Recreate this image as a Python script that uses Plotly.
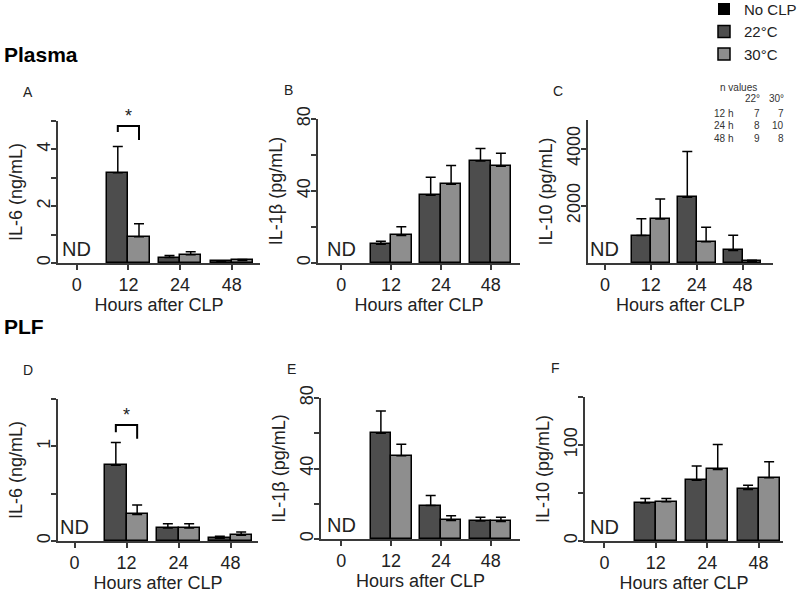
import plotly.graph_objects as go

W, H = 800, 595

hours = ["0", "12", "24", "48"]
groups_clp = ["12", "24", "48"]

# Plasma
il6_plasma_22 = [3.18, 0.19, 0.06]
il6_plasma_22_err = [0.92, 0.07, 0.02]
il6_plasma_30 = [0.92, 0.29, 0.09]
il6_plasma_30_err = [0.46, 0.11, 0.03]

il1b_plasma_22 = [10.4, 37.6, 56.7]
il1b_plasma_22_err = [1.7, 10.0, 6.9]
il1b_plasma_30 = [15.3, 43.7, 53.8]
il1b_plasma_30_err = [4.8, 10.4, 7.2]

il10_plasma_22 = [960, 2300, 440]
il10_plasma_22_err = [590, 1600, 530]
il10_plasma_30 = [1540, 740, 60]
il10_plasma_30_err = [700, 510, 35]

# PLF
il6_plf_22 = [0.80, 0.137, 0.03]
il6_plf_22_err = [0.24, 0.045, 0.02]
il6_plf_30 = [0.28, 0.137, 0.06]
il6_plf_30_err = [0.10, 0.045, 0.035]

il1b_plf_22 = [60.0, 19.0, 10.2]
il1b_plf_22_err = [12.6, 5.7, 2.2]
il1b_plf_30 = [47.2, 10.5, 10.0]
il1b_plf_30_err = [6.6, 2.7, 2.4]

il10_plf_22 = [39.7, 63.4, 53.7]
il10_plf_22_err = [4.6, 14.6, 4.5]
il10_plf_30 = [40.8, 74.6, 65.9]
il10_plf_30_err = [3.5, 26.0, 16.7]

n_rows = ["12 h", "24 h", "48 h"]
n_22 = [7, 8, 9]
n_30 = [7, 10, 8]

C_NOCLP = "#000000"
C_22 = "#4d4d4d"
C_30 = "#8e8e8e"
AX = "#3a3a3a"
TXT = "#222222"
FONT = "Liberation Sans, Arial, sans-serif"

BW = 0.41

# panel layout in pixels: (x_left, x_right, y_zero, y_top, group0_px, spacing_px)
panels = [
    dict(letter="A", ytitle="IL-6 (ng/mL)", d22=il6_plasma_22, e22=il6_plasma_22_err,
         d30=il6_plasma_30, e30=il6_plasma_30_err, ymax=5,
         ytv=[0, 1, 2, 3, 4, 5], ytt=["0", "", "2", "", "4", ""],
         px=(58, 260, 263, 121, 76.7, 51.7), sig=(4.82, 4.61, 4.33)),
    dict(letter="B", ytitle="IL-1β (pg/mL)", d22=il1b_plasma_22, e22=il1b_plasma_22_err,
         d30=il1b_plasma_30, e30=il1b_plasma_30_err, ymax=80,
         ytv=[0, 20, 40, 60, 80], ytt=["0", "", "40", "", "80"],
         px=(318, 520, 263, 119, 341.3, 49.8), sig=None),
    dict(letter="C", ytitle="IL-10 (pg/mL)", d22=il10_plasma_22, e22=il10_plasma_22_err,
         d30=il10_plasma_30, e30=il10_plasma_30_err, ymax=5000,
         ytv=[2000, 4000], ytt=["2000", "4000"],
         px=(588, 773, 263, 120, 604.9, 45.9), sig=None),
    dict(letter="D", ytitle="IL-6 (ng/mL)", d22=il6_plf_22, e22=il6_plf_22_err,
         d30=il6_plf_30, e30=il6_plf_30_err, ymax=1.5,
         ytv=[0, 0.5, 1, 1.5], ytt=["0", "", "1", ""],
         px=(58, 258, 541, 399, 74.5, 52.0), sig=(1.225, 1.15, 1.08)),
    dict(letter="E", ytitle="IL-1β (pg/mL)", d22=il1b_plf_22, e22=il1b_plf_22_err,
         d30=il1b_plf_30, e30=il1b_plf_30_err, ymax=80,
         ytv=[0, 20, 40, 60, 80], ytt=["0", "", "40", "", "80"],
         px=(321, 520, 539, 398, 341.3, 49.8), sig=None),
    dict(letter="F", ytitle="IL-10 (pg/mL)", d22=il10_plf_22, e22=il10_plf_22_err,
         d30=il10_plf_30, e30=il10_plf_30_err, ymax=150,
         ytv=[0, 50, 100, 150], ytt=["0", "", "100", ""],
         px=(585, 783, 541, 397, 604.4, 51.4), sig=None),
]

fig = go.Figure()
layout = {}
annotations = []
shapes = []

for i, p in enumerate(panels):
    k = i + 1
    xa = "x" if k == 1 else f"x{k}"
    ya = "y" if k == 1 else f"y{k}"
    xl, xr, y0, yt, g0, sp = p["px"]
    xpos = list(range(1, len(groups_clp) + 1))
    # No CLP (not detected at 0 h)
    fig.add_trace(go.Bar(
        x=[0], y=[0], width=BW, name="No CLP", marker=dict(color=C_NOCLP, line=dict(width=0)),
        xaxis=xa, yaxis=ya, showlegend=(k == 1), legendgroup="no", hoverinfo="skip"))
    fig.add_trace(go.Bar(
        x=[v - BW / 2 for v in xpos], y=p["d22"], width=BW, name="22°C",
        marker=dict(color=C_22, line=dict(color="black", width=1.5)),
        error_y=dict(type="data", symmetric=False, array=p["e22"], arrayminus=[0] * 3,
                     color="black", thickness=1.5, width=5),
        xaxis=xa, yaxis=ya, showlegend=(k == 1), legendgroup="22"))
    fig.add_trace(go.Bar(
        x=[v + BW / 2 for v in xpos], y=p["d30"], width=BW, name="30°C",
        marker=dict(color=C_30, line=dict(color="black", width=1.5)),
        error_y=dict(type="data", symmetric=False, array=p["e30"], arrayminus=[0] * 3,
                     color="black", thickness=1.5, width=5),
        xaxis=xa, yaxis=ya, showlegend=(k == 1), legendgroup="30"))

    xr0 = (xl - g0) / sp
    xr1 = (xr - g0) / sp
    layout["xaxis" if k == 1 else f"xaxis{k}"] = dict(
        domain=[xl / W, xr / W], range=[xr0, xr1], anchor=ya, automargin=False,
        tickvals=[0, 1, 2, 3], ticktext=hours, ticks="outside", ticklen=5, tickwidth=1.5,
        tickcolor=AX, showline=True, linecolor=AX, linewidth=1.5, showgrid=False, zeroline=False,
        tickfont=dict(size=18, color=TXT, family=FONT),
        title=dict(text="Hours after CLP", font=dict(size=18, color=TXT, family=FONT), standoff=2),
        fixedrange=True)
    layout["yaxis" if k == 1 else f"yaxis{k}"] = dict(
        domain=[1 - y0 / H, 1 - yt / H], range=[0, p["ymax"]], anchor=xa, automargin=False,
        tickvals=p["ytv"], ticktext=p["ytt"], ticks="outside", ticklen=5, tickwidth=1.5,
        tickcolor=AX, showline=True, linecolor=AX, linewidth=1.5, showgrid=False, zeroline=False,
        tickangle=-90, ticklabelstandoff=-6, tickfont=dict(size=18, color=TXT, family=FONT),
        title=dict(text=p["ytitle"], font=dict(size=18, color=TXT, family=FONT), standoff=7),
        fixedrange=True)

    # ND label at 0 h
    annotations.append(dict(x=0, y=0, xref=xa, yref=ya, text="ND", showarrow=False,
                            yanchor="bottom", yshift=1, font=dict(size=20, color=TXT, family=FONT)))
    # panel letter
    annotations.append(dict(x=(xl - 30) / W, y=1 - (yt - 29) / H, xref="paper", yref="paper",
                            text=p["letter"], showarrow=False, xanchor="center", yanchor="middle",
                            font=dict(size=14, color=TXT, family=FONT)))
    # significance bracket
    if p["sig"]:
        top, lleg, rleg = p["sig"]
        xa_l = 1 - BW / 2
        xa_r = 1 + BW / 2
        shapes.append(dict(type="path", xref=xa, yref=ya,
                           path=f"M {xa_l},{lleg} L {xa_l},{top} L {xa_r},{top} L {xa_r},{rleg}",
                           line=dict(color="black", width=2)))
        annotations.append(dict(x=1, y=top, xref=xa, yref=ya, text="*", showarrow=False,
                                yanchor="middle", yshift=10, font=dict(size=18, color=TXT, family=FONT)))

# Row labels
annotations.append(dict(x=2 / W, y=1 - 54 / H, xref="paper", yref="paper", text="<b>Plasma</b>",
                        showarrow=False, xanchor="left", yanchor="middle",
                        font=dict(size=21, color="black", family=FONT)))
annotations.append(dict(x=2 / W, y=1 - 326 / H, xref="paper", yref="paper", text="<b>PLF</b>",
                        showarrow=False, xanchor="left", yanchor="middle",
                        font=dict(size=21, color="black", family=FONT)))

# n values table
small = dict(size=10, color="#333333", family=FONT)
annotations.append(dict(x=759 / W, y=1 - 80 / H, xref="paper", yref="paper", text="n values",
                        showarrow=False, font=small))
annotations.append(dict(x=762 / W, y=1 - 91 / H, xref="paper", yref="paper", text="22°",
                        showarrow=False, font=small))
annotations.append(dict(x=786 / W, y=1 - 91 / H, xref="paper", yref="paper", text="30°",
                        showarrow=False, font=small))
for j, r in enumerate(n_rows):
    yy = 1 - (106 + 12.5 * j) / H
    annotations.append(dict(x=735 / W, y=yy, xref="paper", yref="paper", text=r, showarrow=False, font=small))
    annotations.append(dict(x=762 / W, y=yy, xref="paper", yref="paper", text=str(n_22[j]), showarrow=False, font=small))
    annotations.append(dict(x=786 / W, y=yy, xref="paper", yref="paper", text=str(n_30[j]), showarrow=False, font=small))

fig.update_layout(
    template="none",
    width=W, height=H, margin=dict(l=0, r=0, t=0, b=0, autoexpand=False),
    paper_bgcolor="white", plot_bgcolor="white",
    barmode="overlay", bargap=0,
    font=dict(family=FONT, color=TXT),
    showlegend=True,
    legend=dict(x=704 / W, y=1.012, xanchor="left", yanchor="top", bgcolor="rgba(0,0,0,0)",
                font=dict(size=15, color=TXT, family=FONT), tracegroupgap=0, itemclick=False),
    annotations=annotations, shapes=shapes,
    **layout,
)

fig.write_html("out.html", config={"displayModeBar": False},
               post_script="document.body.style.margin='0';document.body.style.overflow='hidden';")
